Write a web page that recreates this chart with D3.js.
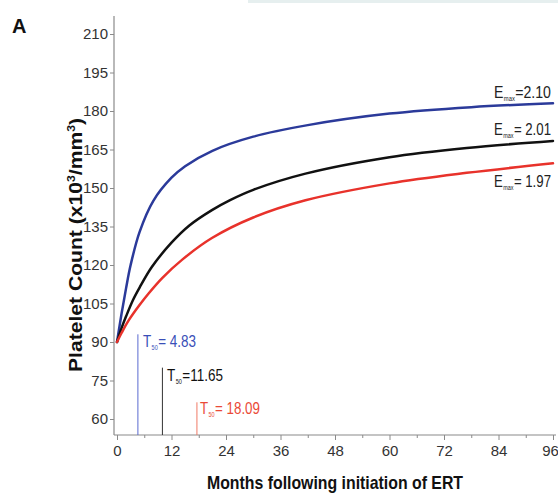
<!DOCTYPE html>
<html><head><meta charset="utf-8">
<script src="https://cdn.jsdelivr.net/npm/d3@7"></script>
<style>
html,body{margin:0;padding:0;background:#fff;}
svg{display:block;}
text{font-family:"Liberation Sans",Arial,sans-serif;}
</style></head>
<body>
<svg id="chart" width="558" height="494"></svg>
<script>
// ---- data ----
const blueT  = [0, 1, 2, 3, 5, 8, 12, 15, 21, 30, 42, 60, 78, 96];
const blueV  = [90, 101, 111, 120, 133, 145, 154, 158.5, 164.5, 170, 174.5, 179, 181.5, 183];
const blackT = [0, 1, 2, 3.5, 5, 7.7, 12, 16, 20.9, 24.9, 30, 41.5, 60, 77, 96];
const blackV = [90, 95.4, 100, 106.3, 111.3, 119.3, 128.7, 135.5, 141.4, 145.3, 149.3, 155.6, 162, 165.6, 168.3];
const redT   = [0, 1, 2.6, 5, 7, 10, 14.3, 20.9, 30, 41.5, 60, 77, 96];
const redV   = [90, 93.5, 98.5, 104.5, 109, 115, 122, 130.5, 138.5, 145.2, 151.8, 155.9, 159.6];
const seriesColors = ["#2b3a9a", "#111111", "#e8322b"];
const t50LineX = [4.6, 10.0, 17.6];
const t50LineTop = [93, 80, 66.5];
const t50Labels = ["= 4.83", "=11.65", "= 18.09"];
const t50LineColors = ["#5a6ad0", "#333333", "#f07a66"];
const emaxLabels = ["=2.10", "= 2.01", "= 1.97"];
const yTicks = [60, 75, 90, 105, 120, 135, 150, 165, 180, 195, 210];
const xTicks = [0, 12, 24, 36, 48, 60, 72, 84, 96];
const xMinorTicks = [6, 18, 30, 42, 54, 66, 78, 90];

const svg = d3.select("#chart");
const x = d3.scaleLinear().domain([0, 96]).range([117, 553]);
const y = d3.scaleLinear().domain([60, 210]).range([419, 34]);
const axisColor = "#8a8a8a";
const tickText = "#333";

// faint top strip (artifact in reference)
svg.append("rect").attr("x", 248).attr("y", 0).attr("width", 310).attr("height", 3).attr("fill", "#e6efef");

// panel label
svg.append("text").attr("x", 12).attr("y", 33).attr("font-size", 20).attr("font-weight", "bold")
  .attr("fill", "#111").text("A");

// y axis
const yAxis = svg.append("g").attr("transform", "translate(114,0)")
  .call(d3.axisLeft(y).tickValues(yTicks).tickSize(4).tickSizeOuter(0).tickPadding(2));
yAxis.select(".domain").remove();
yAxis.selectAll(".tick line").attr("stroke", axisColor);
yAxis.selectAll(".tick text").attr("font-size", 15).attr("fill", tickText)
  .style("font-family", "Liberation Sans, Arial, sans-serif");
svg.append("line").attr("x1", 114).attr("x2", 114).attr("y1", 16).attr("y2", 435)
  .attr("stroke", axisColor).attr("stroke-width", 1.2);

// x axis
const xAxis = svg.append("g").attr("transform", "translate(0,435)")
  .call(d3.axisBottom(x).tickValues(xTicks).tickSize(5).tickSizeOuter(0).tickPadding(5));
xAxis.select(".domain").remove();
xAxis.selectAll(".tick line").attr("stroke", axisColor);
xAxis.selectAll(".tick text").attr("font-size", 15).attr("fill", tickText)
  .style("font-family", "Liberation Sans, Arial, sans-serif")
  .attr("dx", d => d === 96 ? -3 : 0);
const xMinor = svg.append("g").attr("transform", "translate(0,435)")
  .call(d3.axisBottom(x).tickValues(xMinorTicks).tickSize(3).tickFormat(""));
xMinor.select(".domain").remove();
xMinor.selectAll(".tick line").attr("stroke", axisColor);
svg.append("line").attr("x1", 114).attr("x2", 556).attr("y1", 435).attr("y2", 435)
  .attr("stroke", axisColor).attr("stroke-width", 1.2);

// axis titles
svg.append("text").attr("x", 335).attr("y", 489).attr("text-anchor", "middle")
  .attr("font-size", 19).attr("font-weight", "bold").attr("fill", "#111")
  .attr("textLength", 256).attr("lengthAdjust", "spacingAndGlyphs")
  .text("Months following initiation of ERT");
const yt = svg.append("text").attr("transform", "translate(82,245) rotate(-90)")
  .attr("text-anchor", "middle").attr("font-size", 19).attr("font-weight", "bold").attr("fill", "#111")
  .attr("textLength", 254).attr("lengthAdjust", "spacingAndGlyphs");
yt.append("tspan").text("Platelet Count (x10");
yt.append("tspan").attr("font-size", 11).attr("dy", -7).text("3");
yt.append("tspan").attr("dy", 7).text("/mm");
yt.append("tspan").attr("font-size", 11).attr("dy", -7).text("3");
yt.append("tspan").attr("dy", 7).text(")");

// helper: condensed label with subscript, built from separate text pieces
function subLabel(parent, main, sub, rest, color, x0, y0, targetW, anchorEnd) {
  const g = parent.append("g");
  const a = g.append("text").attr("font-size", 17).attr("fill", color).text(main);
  const wa = a.node().getComputedTextLength();
  const b = g.append("text").attr("font-size", 7).attr("fill", color).attr("x", wa + 0.5).attr("y", 3).text(sub);
  const wb = b.node().getComputedTextLength();
  const c = g.append("text").attr("font-size", 17).attr("fill", color).attr("x", wa + wb + 1).text(rest);
  const wc = c.node().getComputedTextLength();
  const total = wa + wb + 1 + wc;
  const s = targetW / total;
  const left = anchorEnd ? x0 - targetW : x0;
  g.attr("transform", `translate(${left},${y0}) scale(${s},1)`);
}

// T50 lines
t50LineX.forEach((t, i) => {
  svg.append("line").attr("x1", x(t)).attr("x2", x(t)).attr("y1", y(t50LineTop[i])).attr("y2", 435)
    .attr("stroke", t50LineColors[i]).attr("stroke-width", 1);
});
const t50Pos = [[143, 347], [167, 381], [200, 414]];
const t50Widths = [53, 56, 60];
const t50TextColors = ["#3a4fb8", "#111", "#ea4a38"];
t50Labels.forEach((lab, i) => {
  subLabel(svg, "T", "50", lab, t50TextColors[i], t50Pos[i][0], t50Pos[i][1], t50Widths[i], false);
});

// curves
const line = d3.line().x(d => x(d[0])).y(d => y(d[1])).curve(d3.curveCatmullRom.alpha(0.5));
const seriesData = [
  blueT.map((t, i) => [t, blueV[i]]),
  blackT.map((t, i) => [t, blackV[i]]),
  redT.map((t, i) => [t, redV[i]])
];
seriesData.forEach((d, i) => {
  svg.append("path").datum(d).attr("d", line).attr("fill", "none")
    .attr("stroke", seriesColors[i]).attr("stroke-width", 2.5).attr("stroke-linecap", "round");
});

// Emax labels
const emaxY = [98, 135, 187];
emaxLabels.forEach((lab, i) => {
  subLabel(svg, "E", "max", lab, "#222", 551, emaxY[i], 57, true);
});
</script>
</body></html>
